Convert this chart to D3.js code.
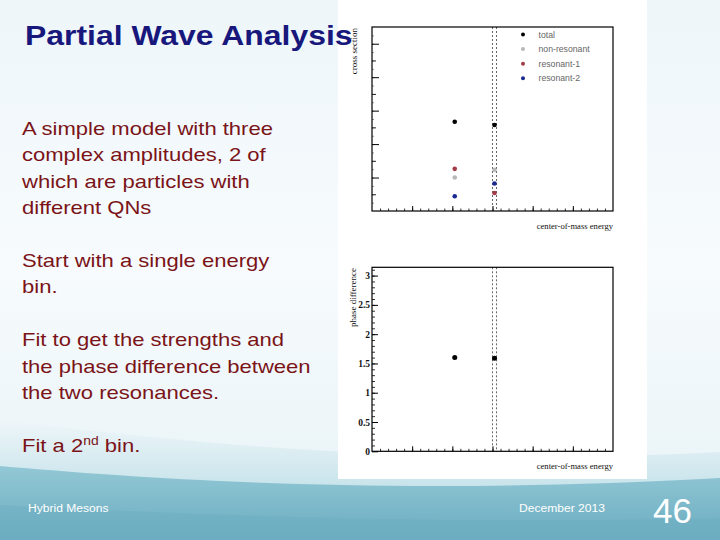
<!DOCTYPE html>
<html>
<head>
<meta charset="utf-8">
<script src="https://cdn.jsdelivr.net/npm/d3@7/dist/d3.min.js"></script>
<style>
  html, body { margin: 0; padding: 0; background: #fff; }
  svg { display: block; }
</style>
</head>
<body>
<svg id="slide" width="720" height="540"></svg>
<script>
// ---------------- data ----------------
const categories = ["total", "non-resonant", "resonant-1", "resonant-2"];
const binCenters = [2.06, 3.05];          // centre-of-mass energy (arb. units)
const total = [2.67, 2.57];
const nonResonant = [1.0, 1.23];
const resonant1 = [1.26, 0.54];
const resonant2 = [0.44, 0.82];
const phaseDiff = [1.60, 1.59];
const binEdges = [3.0, 3.1];
const xMajorTicks = [1, 2, 3, 4, 5];
const csMajorTicks = [1, 2, 3, 4, 5];
const phaseTicks = [0, 0.5, 1, 1.5, 2, 2.5, 3];
const phaseTickLabels = ["0", "0.5", "1", "1.5", "2", "2.5", "3"];

const titleText = "Partial Wave Analysis";
const bodyLines = [
  "A simple model with three",
  "complex amplitudes, 2 of",
  "which are particles with",
  "different QNs",
  "",
  "Start with a single energy",
  "bin.",
  "",
  "Fit to get the strengths and",
  "the phase difference between",
  "the two resonances.",
  ""
];
const footerLeft = "Hybrid Mesons";
const footerDate = "December 2013";
const slideNumber = "46";

const seriesColors = {
  "total": "#000000",
  "non-resonant": "#b8b8b8",
  "resonant-1": "#a33c48",
  "resonant-2": "#1b2a8e"
};
const seriesValues = {
  "total": total,
  "non-resonant": nonResonant,
  "resonant-1": resonant1,
  "resonant-2": resonant2
};

// ---------------- slide ----------------
const svg = d3.select("#slide");
const defs = svg.append("defs");

const bg = defs.append("linearGradient").attr("id", "bg").attr("x1", 0).attr("y1", 0).attr("x2", 0).attr("y2", 1);
bg.append("stop").attr("offset", "0").attr("stop-color", "#eef6fa");
bg.append("stop").attr("offset", "0.5").attr("stop-color", "#f7fbfd");
bg.append("stop").attr("offset", "1").attr("stop-color", "#e6f2f6");

const sw1 = defs.append("linearGradient").attr("id", "sw1").attr("x1", 0).attr("y1", 0).attr("x2", 0).attr("y2", 1);
sw1.append("stop").attr("offset", "0").attr("stop-color", "#eef6f9");
sw1.append("stop").attr("offset", "0.4").attr("stop-color", "#d3e9ef");
sw1.append("stop").attr("offset", "1").attr("stop-color", "#a9d3de");

const sw2 = defs.append("linearGradient").attr("id", "sw2").attr("x1", 0).attr("y1", 0).attr("x2", 0).attr("y2", 1);
sw2.append("stop").attr("offset", "0").attr("stop-color", "#93c8d5");
sw2.append("stop").attr("offset", "1").attr("stop-color", "#6aacc0");

svg.append("rect").attr("width", 720).attr("height", 540).attr("fill", "url(#bg)");
svg.append("path")
  .attr("d", "M0,420 C180,442 420,468 720,452 L720,540 L0,540 Z")
  .attr("fill", "url(#sw1)");
svg.append("path")
  .attr("d", "M0,466 C160,480 400,496 720,478 L720,540 L0,540 Z")
  .attr("fill", "url(#sw2)");
svg.append("path")
  .attr("d", "M0,505 C200,515 450,525 720,518 L720,540 L0,540 Z")
  .attr("fill", "#6eaec2").attr("opacity", 0.5);

// white image panel
svg.append("rect").attr("x", 338).attr("y", 0).attr("width", 309).attr("height", 479).attr("fill", "#ffffff");

// ---------------- plots ----------------
const serif = "'Liberation Serif', 'DejaVu Serif', serif";
const sans = "'Liberation Sans', Arial, sans-serif";
const frameL = 372, frameR = 613;

const x = d3.scaleLinear().domain([0, 6]).range([frameL, frameR]);

function xAxes(g, yBottom) {
  g.append("g").attr("transform", `translate(0,${yBottom})`)
    .call(d3.axisBottom(x).tickValues(d3.range(0.2, 6, 0.2)).tickSize(-2.5).tickFormat(""))
    .call(a => a.select(".domain").remove())
    .call(a => a.selectAll("line").attr("stroke", "#333"));
  g.append("g").attr("transform", `translate(0,${yBottom})`)
    .call(d3.axisBottom(x).tickValues(xMajorTicks).tickSize(-5).tickFormat(""))
    .call(a => a.select(".domain").remove())
    .call(a => a.selectAll("line").attr("stroke", "#000"));
}

function dotted(g, yTop, yBottom) {
  g.selectAll("line.edge").data(binEdges).join("line")
    .attr("class", "edge")
    .attr("x1", d => x(d)).attr("x2", d => x(d))
    .attr("y1", yTop).attr("y2", yBottom)
    .attr("stroke", "#666").attr("stroke-width", 1).attr("stroke-dasharray", "2,2");
}

// ---- top: cross section ----
const topG = svg.append("g");
const yCS = d3.scaleLinear().domain([0, 5.5]).range([211, 27]);

topG.append("g").attr("transform", `translate(${frameL},0)`)
  .call(d3.axisLeft(yCS).tickValues(d3.range(0.25, 5.5, 0.25)).tickSize(-2).tickFormat(""))
  .call(a => a.select(".domain").remove())
  .call(a => a.selectAll("line").attr("stroke", "#999"));
topG.append("g").attr("transform", `translate(${frameL},0)`)
  .call(d3.axisLeft(yCS).tickValues(d3.range(0.5, 5.5, 1)).tickSize(-4).tickFormat(""))
  .call(a => a.select(".domain").remove())
  .call(a => a.selectAll("line").attr("stroke", "#222"));
topG.append("g").attr("transform", `translate(${frameL},0)`)
  .call(d3.axisLeft(yCS).tickValues(csMajorTicks).tickSize(-7).tickFormat(""))
  .call(a => a.select(".domain").remove())
  .call(a => a.selectAll("line").attr("stroke", "#000"));
xAxes(topG, 211);
dotted(topG, 27, 211);

topG.append("rect").attr("x", frameL).attr("y", 27).attr("width", frameR - frameL).attr("height", 184)
  .attr("fill", "none").attr("stroke", "#000").attr("stroke-width", 1.2);

categories.forEach(cat => {
  topG.append("g").selectAll("circle").data(seriesValues[cat]).join("circle")
    .attr("cx", (d, i) => x(binCenters[i]))
    .attr("cy", d => yCS(d))
    .attr("r", 2.3)
    .attr("fill", seriesColors[cat]);
});

// legend
const leg = topG.append("g");
categories.forEach((cat, i) => {
  const yy = 34.5 + i * 14.6;
  leg.append("circle").attr("cx", 523).attr("cy", yy).attr("r", 2).attr("fill", seriesColors[cat]);
  leg.append("text").attr("x", 538.5).attr("y", yy + 3).attr("font-family", sans).attr("font-size", 8.7)
    .attr("fill", "#666").text(cat);
});

topG.append("text").attr("transform", "translate(357,28) rotate(-90)")
  .attr("text-anchor", "end").attr("font-family", serif).attr("font-size", 9).attr("fill", "#111")
  .text("cross section");
topG.append("text").attr("x", frameR).attr("y", 229).attr("text-anchor", "end")
  .attr("font-family", serif).attr("font-size", 8.6).attr("fill", "#111").text("center-of-mass energy");

// ---- bottom: phase difference ----
const botG = svg.append("g");
const yPh = d3.scaleLinear().domain([0, Math.PI]).range([451.3, 267.3]);

botG.append("g").attr("transform", `translate(${frameL},0)`)
  .call(d3.axisLeft(yPh).tickValues(d3.range(0.1, 3.14, 0.1)).tickSize(-3).tickFormat(""))
  .call(a => a.select(".domain").remove())
  .call(a => a.selectAll("line").attr("stroke", "#333"));
botG.append("g").attr("transform", `translate(${frameL},0)`)
  .call(d3.axisLeft(yPh).tickValues(phaseTicks).tickSize(-6).tickPadding(2)
    .tickFormat((d, i) => phaseTickLabels[i]))
  .call(a => a.select(".domain").remove())
  .call(a => a.selectAll("line").attr("stroke", "#000"))
  .call(a => a.selectAll("text").attr("font-family", serif).attr("font-size", 9.5)
    .attr("font-weight", "bold").attr("fill", "#111"));
xAxes(botG, 451.3);
dotted(botG, 267.3, 451.3);

botG.append("rect").attr("x", frameL).attr("y", 267.3).attr("width", frameR - frameL).attr("height", 184)
  .attr("fill", "none").attr("stroke", "#000").attr("stroke-width", 1.2);

botG.append("g").selectAll("circle").data(phaseDiff).join("circle")
  .attr("cx", (d, i) => x(binCenters[i]))
  .attr("cy", d => yPh(d))
  .attr("r", 2.5).attr("fill", "#000");

botG.append("text").attr("transform", "translate(356,268) rotate(-90)")
  .attr("text-anchor", "end").attr("font-family", serif).attr("font-size", 9).attr("fill", "#111")
  .text("phase difference");
botG.append("text").attr("x", frameR).attr("y", 469).attr("text-anchor", "end")
  .attr("font-family", serif).attr("font-size", 8.6).attr("fill", "#111").text("center-of-mass energy");

// ---------------- slide text ----------------
const font = "'Liberation Sans', Arial, sans-serif";

svg.append("g").attr("transform", "translate(25,45) scale(1.14,1)")
  .append("text").attr("font-family", font).attr("font-weight", "bold").attr("font-size", 28)
  .attr("fill", "#17177c").text(titleText);

const body = svg.append("g").attr("transform", "translate(22,0) scale(1.16,1)");
const lineBase = 135, lineStep = 26.4;
bodyLines.forEach((ln, i) => {
  if (!ln) return;
  body.append("text").attr("x", 0).attr("y", lineBase + i * lineStep)
    .attr("font-family", font).attr("font-size", 19).attr("fill", "#7b1418").text(ln);
});
const last = body.append("text").attr("x", 0).attr("y", lineBase + bodyLines.length * lineStep)
  .attr("font-family", font).attr("font-size", 19).attr("fill", "#7b1418");
last.append("tspan").text("Fit a 2");
last.append("tspan").attr("font-size", 12).attr("dy", -7).text("nd");
last.append("tspan").attr("dy", 7).text(" bin.");

svg.append("g").attr("transform", "translate(28,512) scale(1.1,1)")
  .append("text").attr("font-family", font).attr("font-size", 11).attr("fill", "#ffffff").text(footerLeft);
svg.append("g").attr("transform", "translate(519,512) scale(1.1,1)")
  .append("text").attr("font-family", font).attr("font-size", 11).attr("fill", "#ffffff").text(footerDate);
svg.append("text").attr("x", 653).attr("y", 523).attr("font-family", font).attr("font-size", 35)
  .attr("fill", "#ffffff").text(slideNumber);
</script>
</body>
</html>
